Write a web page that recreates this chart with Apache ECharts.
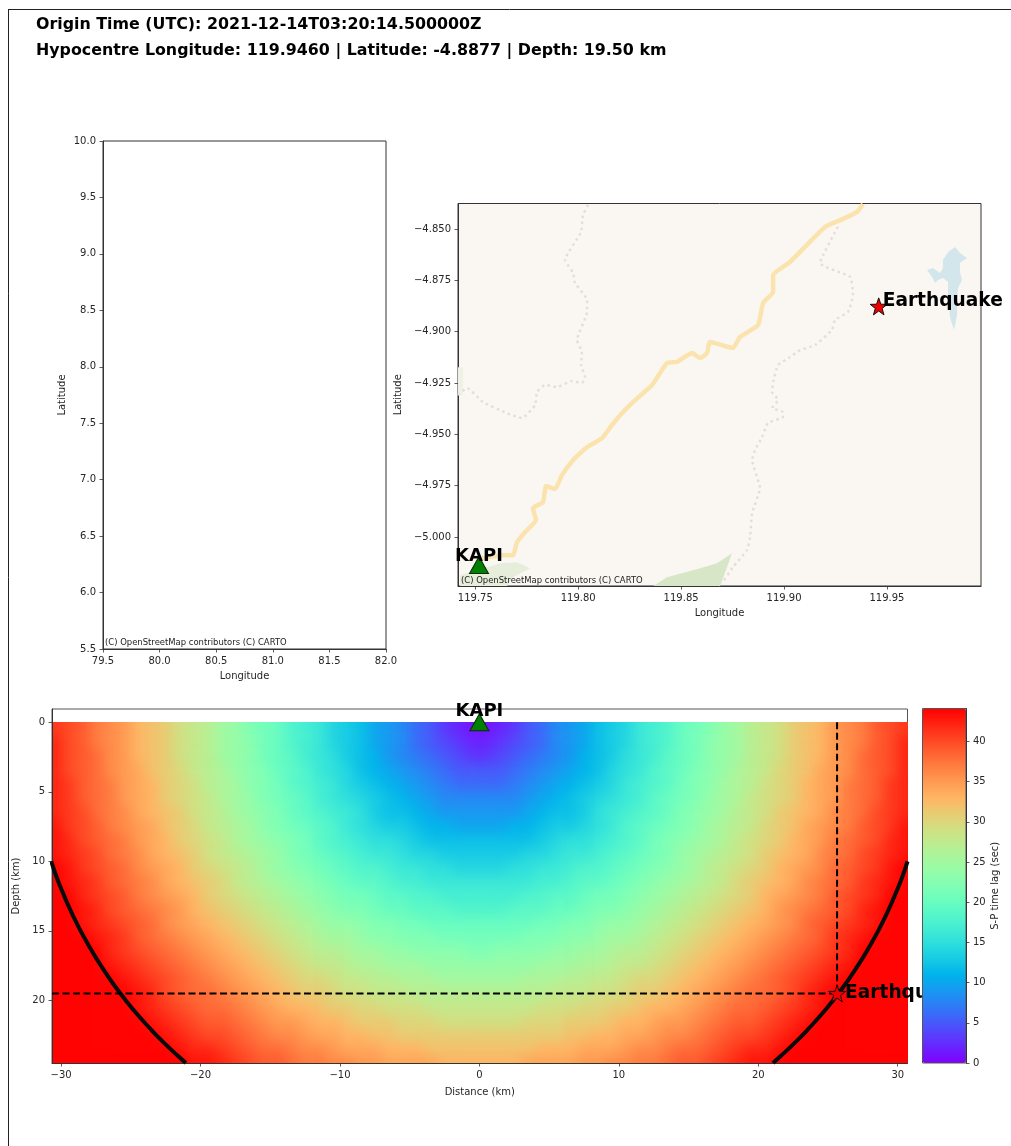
<!DOCTYPE html>
<html><head><meta charset="utf-8">
<style>html,body{margin:0;padding:0;background:#fff}#c{width:1011px;height:1146px}</style>
<script src="https://cdn.jsdelivr.net/npm/echarts@6/dist/echarts.min.js"></script>
</head><body><div id="c"></div>
<script>
const titleLines = ['Origin Time (UTC): 2021-12-14T03:20:14.500000Z','Hypocentre Longitude: 119.9460 | Latitude: -4.8877 | Depth: 19.50 km'];
const attribution = '(C) OpenStreetMap contributors (C) CARTO';

const mapLonTicks = [119.75,119.80,119.85,119.90,119.95];
const mapLatTicks = [-4.85,-4.875,-4.9,-4.925,-4.95,-4.975,-5.0];
const sectionDistanceTicks = [-30,-20,-10,0,10,20,30];
const sectionDepthTicks = [0,5,10,15,20];
const colorbarTicks = [0,5,10,15,20,25,30,35,40];

const quake = {lon:119.9460, lat:-4.8877, distance:25.65, depth:19.5};
const station = {lon:119.7518, lat:-5.0137, distance:0, depth:0};

const roadLon = [119.7533,119.7635,119.7683,119.7703,119.7741,119.7795,119.7780,119.7829,119.7844,119.7887,119.7921,119.7975,119.8043,119.8116,119.8164,119.8218,119.8266,119.8359,119.8431,119.8480,119.8553,119.8592,119.8626,119.8640,119.8752,119.8786,119.8874,119.8898,119.8947,119.8947,119.9029,119.9199,119.9287,119.9355,119.9384];
const roadLat = [-5.0103,-5.0089,-5.0089,-5.0025,-4.9977,-4.9918,-4.9860,-4.9830,-4.9752,-4.9767,-4.9699,-4.9626,-4.9562,-4.9519,-4.9455,-4.9392,-4.9343,-4.9260,-4.9153,-4.9148,-4.9104,-4.9129,-4.9104,-4.9051,-4.9080,-4.9026,-4.8968,-4.8861,-4.8807,-4.8724,-4.8661,-4.8490,-4.8451,-4.8417,-4.8378];
const trailWestLon = [119.8048,119.8023,119.8014,119.7936,119.7975,119.7984,119.8043,119.8043,119.7994,119.8018,119.8014,119.8033,119.8018,119.7970,119.7897,119.7839,119.7800,119.7790,119.7727,119.7654,119.7537,119.7460,119.7416];
const trailWestLat = [-4.8383,-4.8432,-4.8515,-4.8651,-4.8714,-4.8763,-4.8846,-4.8904,-4.9041,-4.9099,-4.9163,-4.9221,-4.9250,-4.9241,-4.9270,-4.9260,-4.9294,-4.9358,-4.9421,-4.9397,-4.9343,-4.9275,-4.9309];
const trailEastLon = [119.9262,119.9175,119.9321,119.9335,119.9311,119.9248,119.9233,119.9151,119.9078,119.9029,119.8971,119.8947,119.8942,119.8971,119.8942,119.8995,119.8995,119.8922,119.8893,119.8859,119.8845,119.8883,119.8845,119.8835,119.8820,119.8752,119.8699];
const trailEastLat = [-4.8490,-4.8666,-4.8734,-4.8822,-4.8904,-4.8943,-4.8992,-4.9065,-4.9090,-4.9124,-4.9163,-4.9246,-4.9294,-4.9333,-4.9372,-4.9392,-4.9416,-4.9445,-4.9514,-4.9577,-4.9626,-4.9762,-4.9884,-5.0001,-5.0064,-5.0147,-5.0225];
const forestSouthLon = [119.8363,119.8431,119.8592,119.8674,119.8747,119.8713,119.8689];
const forestSouthLat = [-5.0240,-5.0196,-5.0152,-5.0128,-5.0079,-5.0176,-5.0240];
const forestWestLon = [119.7426,119.7426,119.7513,119.7620,119.7703,119.7766,119.7683,119.7654];
const forestWestLat = [-5.0240,-5.0186,-5.0162,-5.0128,-5.0123,-5.0152,-5.0196,-5.0240];
const forestEdgeLon = [119.7416,119.7440,119.7440,119.7416];
const forestEdgeLat = [-4.9173,-4.9173,-4.9309,-4.9309];
const lakeLon = [119.9831,119.9855,119.9889,119.9855,119.9855,119.9865,119.9845,119.9841,119.9841,119.9826,119.9807,119.9797,119.9797,119.9772,119.9748,119.9734,119.9719,119.9695,119.9724,119.9758,119.9772,119.9772,119.9797];
const lakeLat = [-4.8588,-4.8617,-4.8641,-4.8666,-4.8710,-4.8749,-4.8788,-4.8870,-4.8919,-4.8992,-4.8934,-4.8836,-4.8758,-4.8739,-4.8749,-4.8763,-4.8734,-4.8700,-4.8690,-4.8714,-4.8690,-4.8651,-4.8612];

const arcDistance = [30.7,30.37,29.98,29.56,29.1,28.6,28.05,27.46,26.81,26.12,25.36,24.54,23.64,22.67,21.61,21.05];
const arcDepth = [10,11,12,13,14,15,16,17,18,19,20,21,22,23,24,24.5];

const distanceBins = [0.5,1.5,2.5,3.5,4.5,5.5,6.5,7.5,8.5,9.5,10.5,11.5,12.5,13.5,14.5,15.5,16.5,17.5,18.5,19.5,20.5,21.5,22.5,23.5,24.5,25.5,26.5,27.5,28.5,29.5,30.5];
const depthBins = [0.5,1.5,2.5,3.5,4.5,5.5,6.5,7.5,8.5,9.5,10.5,11.5,12.5,13.5,14.5,15.5,16.5,17.5,18.5,19.5,20.5,21.5,22.5,23.5,24.5];
const lagByDepth = [
[1,2,3,5,6,8,9,10,12,13,14,16,17,18,20,21,22,24,25,27,28,29,31,32,33,35,36,37,39,40,41],
[2,3,4,5,6,8,9,10,12,13,14,16,17,18,20,21,23,24,25,27,28,29,31,32,33,35,36,37,39,40,42],
[3,4,5,6,7,8,9,11,12,13,15,16,17,19,20,21,23,24,25,27,28,29,31,32,33,35,36,38,39,40,42],
[5,5,6,7,8,9,10,11,12,14,15,16,18,19,20,22,23,24,26,27,28,30,31,32,34,35,36,38,39,40,42],
[6,6,7,8,9,10,11,12,13,14,16,17,18,19,21,22,23,25,26,27,29,30,31,33,34,35,37,38,39,41,42],
[8,8,8,9,10,11,12,13,14,15,16,17,19,20,21,22,24,25,26,28,29,30,31,33,34,35,37,38,39,41,42],
[9,9,9,10,11,12,12,13,15,16,17,18,19,20,22,23,24,25,27,28,29,31,32,33,34,36,37,38,40,41,42],
[10,10,11,11,12,13,13,14,15,16,18,19,20,21,22,23,25,26,27,28,30,31,32,34,35,36,37,39,40,41,43],
[12,12,12,12,13,14,15,15,16,17,18,19,21,22,23,24,25,26,28,29,30,31,33,34,35,37,38,39,40,42,43],
[13,13,13,14,14,15,16,16,17,18,19,20,21,22,24,25,26,27,28,29,31,32,33,34,36,37,38,40,41,42,43],
[14,14,15,15,16,16,17,18,18,19,20,21,22,23,24,25,27,28,29,30,31,33,34,35,36,38,39,40,41,43,44],
[16,16,16,16,17,17,18,19,19,20,21,22,23,24,25,26,27,28,30,31,32,33,34,36,37,38,39,41,42,43,44],
[17,17,17,18,18,19,19,20,21,21,22,23,24,25,26,27,28,29,30,31,33,34,35,36,37,39,40,41,42,44,44],
[18,18,19,19,19,20,20,21,22,22,23,24,25,26,27,28,29,30,31,32,33,35,36,37,38,39,40,42,43,44,44],
[20,20,20,20,21,21,22,22,23,24,24,25,26,27,28,29,30,31,32,33,34,35,36,38,39,40,41,42,43,44,44],
[21,21,21,22,22,22,23,23,24,25,25,26,27,28,29,30,31,32,33,34,35,36,37,38,39,41,42,43,44,44,44],
[22,23,23,23,23,24,24,25,25,26,27,27,28,29,30,31,32,33,34,35,36,37,38,39,40,41,42,44,44,44,44],
[24,24,24,24,25,25,25,26,26,27,28,28,29,30,31,32,33,34,35,36,37,38,39,40,41,42,43,44,44,44,44],
[25,25,25,26,26,26,27,27,28,28,29,30,30,31,32,33,34,35,36,37,38,39,40,41,42,43,44,44,44,44,44],
[27,27,27,27,27,28,28,28,29,29,30,31,31,32,33,34,35,36,37,38,38,39,40,42,43,44,44,44,44,44,44],
[28,28,28,28,29,29,29,30,30,31,31,32,33,33,34,35,36,37,38,38,39,40,41,42,43,44,44,44,44,44,44],
[29,29,29,30,30,30,31,31,31,32,33,33,34,35,35,36,37,38,39,39,40,41,42,43,44,44,44,44,44,44,44],
[31,31,31,31,31,31,32,32,33,33,34,34,35,36,36,37,38,39,40,40,41,42,43,44,44,44,44,44,44,44,44],
[32,32,32,32,33,33,33,34,34,34,35,36,36,37,38,38,39,40,41,42,42,43,44,44,44,44,44,44,44,44,44],
[33,33,33,34,34,34,34,35,35,36,36,37,37,38,39,39,40,41,42,43,43,44,44,44,44,44,44,44,44,44,44]
];

const cellData = [];
depthBins.forEach((d, r) => distanceBins.forEach((x, c) => {
  cellData.push([x, d, lagByDepth[r][c]]);
  cellData.push([-x, d, lagByDepth[r][c]]);
}));
const zip = (a, b) => a.map((v, i) => [v, b[i]]);
const lastBinX = distanceBins[distanceBins.length - 1], firstBinD = depthBins[0], lastBinD = depthBins[depthBins.length - 1];

const FONT = 'DejaVu Sans', INK = '#262626', EDGE = '#333333';
const fmtTick = (n) => (v) => (v < 0 ? '\u2212' : '') + Math.abs(v).toFixed(n);
const fmtInt = (v) => (v < 0 ? '\u2212' : '') + Math.abs(v);
const tickText = {color:INK,fontFamily:FONT,fontSize:10};

function axis(gridIndex, extra) {
  return Object.assign({
    gridIndex, type:'value', scale:true, splitLine:{show:false},
    axisLine:{show:true,onZero:false,lineStyle:{color:EDGE,width:1}},
    axisTick:{show:true,length:3.5,lineStyle:{color:EDGE,width:.8}},
    nameLocation:'middle', nameTextStyle:{color:INK,fontFamily:FONT,fontSize:10}
  }, extra);
}
function custom(extra) {
  const {tickValues, label, margin, ...rest} = extra;
  const a = axis(rest.gridIndex, rest);
  a.axisTick = Object.assign({}, a.axisTick, {customValues:tickValues});
  a.axisLabel = Object.assign({}, tickText, {margin, customValues:tickValues, formatter:label, showMinLabel:true, showMaxLabel:true});
  return a;
}
function polygon(lon, lat, fill, name) {
  return {
    type:'custom', name, xAxisIndex:1, yAxisIndex:1, silent:true, clip:true, z:2,
    data:[0],
    renderItem:(p, api) => ({type:'polygon', shape:{points:zip(lon,lat).map(q => api.coord(q))}, style:{fill}})
  };
}
function pathLine(lon, lat, style, z) {
  return {type:'line', xAxisIndex:1, yAxisIndex:1, data:zip(lon,lat), showSymbol:false, silent:true, clip:true, z, lineStyle:style, smooth:.15};
}

const kapiLabel = {show:true, fontFamily:FONT, fontWeight:'bold', fontSize:18, color:'#000', opacity:1, formatter:'KAPI'};
const quakeLabel = {show:true, fontFamily:FONT, fontWeight:'bold', fontSize:18.6, color:'#000', opacity:1, formatter:'Earthquake'};
const triangle = {symbol:'triangle', symbolSize:[19,17], itemStyle:{color:'#008000',borderColor:'#0a2a0a',borderWidth:1,opacity:1}};
const star = {symbol:'path://M0,-10 L2.35,-3.24 L9.51,-3.09 L3.8,1.24 L5.88,8.09 L0,4 L-5.88,8.09 L-3.8,1.24 L-9.51,-3.09 L-2.35,-3.24 Z', symbolSize:17, itemStyle:{color:'#ee0000',borderColor:'#111',borderWidth:1,opacity:1}};

const option = {
  animation:false, backgroundColor:'transparent',
  grid:[
    {left:103,top:141,width:283,height:508,show:true,borderColor:EDGE,borderWidth:1,backgroundColor:'transparent'},
    {left:458,top:203.5,width:523,height:382.5,show:true,borderColor:EDGE,borderWidth:1,backgroundColor:'#faf7f3'},
    {left:52,top:709,width:855.5,height:354,show:true,borderColor:'#555',borderWidth:1,backgroundColor:'#fff'},
    {left:922.5,top:708.5,width:43.5,height:354.5,show:true,borderColor:'#555',borderWidth:1,backgroundColor:'transparent',zlevel:3,z:10}
  ],
  xAxis:[
    axis(0,{min:79.5,max:82,interval:.5,name:'Longitude',nameGap:22,axisLabel:Object.assign({},tickText,{margin:7,formatter:fmtTick(1),showMinLabel:true,showMaxLabel:true})}),
    custom({gridIndex:1,min:119.7416,max:119.9957,tickValues:mapLonTicks,label:fmtTick(2),margin:7,name:'Longitude',nameGap:22}),
    custom({gridIndex:2,min:-30.65,max:30.7,tickValues:sectionDistanceTicks,label:fmtInt,margin:7,name:'Distance (km)',nameGap:24,zlevel:2}),
    {gridIndex:3,type:'value',min:0,max:1,show:false,zlevel:3}
  ],
  yAxis:[
    axis(0,{min:5.5,max:10,interval:.5,name:'Latitude',nameGap:35.5,axisLabel:Object.assign({},tickText,{margin:7,formatter:fmtTick(1),showMinLabel:true,showMaxLabel:true})}),
    custom({gridIndex:1,min:-5.0239,max:-4.8376,tickValues:mapLatTicks,label:fmtTick(3),margin:7,name:'Latitude',nameGap:51}),
    custom({gridIndex:2,min:-0.95,max:24.5,inverse:true,tickValues:sectionDepthTicks,label:fmtInt,margin:7,name:'Depth (km)',nameGap:27.5,zlevel:2}),
    custom({gridIndex:3,min:0,max:44.1,position:'right',tickValues:colorbarTicks,label:fmtInt,margin:7,name:'S-P time lag (sec)',nameGap:24,nameRotate:90,zlevel:3,z:10})
  ],
  visualMap:{
    type:'continuous', show:true, seriesIndex:0, dimension:2, min:0, max:44.1,
    left:922.5, top:708.5, itemWidth:43.5, itemHeight:354.5, padding:0, calculable:false, realtime:false,
    text:null, showLabel:false, hoverLink:false, zlevel:3,
    inRange:{color:['#8000ff','#6628fe','#4d4ffc','#3374f8','#1a96f2','#00b4eb','#1acee3','#33e3da','#4df2ce','#66fcc2','#80ffb4','#99fca5','#b3f296','#cce385','#e6ce74','#ffb462','#ff964f','#ff743b','#ff4f28','#ff2814','#ff0000']},
    textStyle:{color:'rgba(0,0,0,0)',fontSize:1}
  },
  series:[
    {type:'custom', xAxisIndex:2, yAxisIndex:2, data:cellData, silent:true, clip:false, zlevel:1, z:1,
      encode:{x:0,y:1},
      renderItem:(p, api) => {
        const x = api.value(0), d = api.value(1);
        const a = api.coord([x-.5,d-.5]), b = api.coord([x+.5,d+.5]);
        const pad = 26;
        if (x === -lastBinX) a[0] -= pad;
        if (x === lastBinX) b[0] += pad;
        if (d === firstBinD) a[1] -= pad;
        if (d === lastBinD) b[1] += pad;
        const c = api.visual('color');
        return {type:'rect', shape:{x:a[0],y:a[1],width:b[0]-a[0],height:b[1]-a[1]}, style:{fill:c,stroke:c,lineWidth:.6}};
      }},
    {type:'line', xAxisIndex:2, yAxisIndex:2, data:zip(arcDistance,arcDepth), smooth:true, showSymbol:false, silent:true, clip:true, zlevel:2, z:3, lineStyle:{color:'#0a0a0a',width:4}},
    {type:'line', xAxisIndex:2, yAxisIndex:2, data:arcDistance.map((v,i)=>[-v,arcDepth[i]]), smooth:true, showSymbol:false, silent:true, clip:true, zlevel:2, z:3, lineStyle:{color:'#0a0a0a',width:4}},
    {type:'line', xAxisIndex:2, yAxisIndex:2, data:[[-30.65,quake.depth],[quake.distance,quake.depth]], showSymbol:false, silent:true, zlevel:2, z:4, lineStyle:{color:'#000',width:2,type:[7,3.5]}},
    {type:'line', xAxisIndex:2, yAxisIndex:2, data:[[quake.distance,0],[quake.distance,quake.depth]], showSymbol:false, silent:true, zlevel:2, z:4, lineStyle:{color:'#000',width:2,type:[7,3.5]}},
    Object.assign({type:'scatter', xAxisIndex:2, yAxisIndex:2, clip:false, silent:true, zlevel:2, z:5, data:[[station.distance,station.depth]],
      label:Object.assign({position:'top',distance:-7},kapiLabel)}, triangle),
    Object.assign({type:'scatter', xAxisIndex:2, yAxisIndex:2, clip:false, silent:true, zlevel:2, z:5, data:[[quake.distance,quake.depth]],
      label:Object.assign({position:'right',distance:-1},quakeLabel)}, star),

    polygon(forestSouthLon, forestSouthLat, '#d8e6c8', 'forest south'),
    polygon(forestWestLon, forestWestLat, '#e6eedb', 'forest west'),
    polygon(forestEdgeLon, forestEdgeLat, '#eef2e4', 'forest edge'),
    polygon(lakeLon, lakeLat, '#d3e6ec', 'lake'),
    pathLine(trailWestLon, trailWestLat, {color:'#e8dcd8',width:2.5,type:[2.5,3.5]}, 3),
    pathLine(trailEastLon, trailEastLat, {color:'#e8dcd8',width:2.5,type:[2.5,3.5]}, 3),
    pathLine(roadLon, roadLat, {color:'#fbe3ad',width:4.5}, 4),
    Object.assign({type:'scatter', xAxisIndex:1, yAxisIndex:1, clip:false, silent:true, z:6, data:[[station.lon,station.lat]],
      label:Object.assign({position:'top',distance:-9},kapiLabel)}, triangle),
    Object.assign({type:'scatter', xAxisIndex:1, yAxisIndex:1, clip:false, silent:true, z:6, data:[[quake.lon,quake.lat]],
      label:Object.assign({position:'right',distance:-5,offset:[0,-5]},quakeLabel)}, star)
  ],
  graphic:[
    {type:'line',shape:{x1:8.5,y1:9,x2:8.5,y2:1146},style:{stroke:'#222',lineWidth:1},silent:true},
    {type:'line',shape:{x1:8,y1:9.5,x2:1011,y2:9.5},style:{stroke:'#222',lineWidth:1},silent:true},
    {type:'text',x:36,y:25,style:{text:titleLines[0],fill:'#000',font:'bold 15.85px "DejaVu Sans"',verticalAlign:'middle'},silent:true},
    {type:'text',x:36,y:51,style:{text:titleLines[1],fill:'#000',font:'bold 15.85px "DejaVu Sans"',verticalAlign:'middle'},silent:true},
    {type:'text',x:461,y:581,z:20,style:{text:attribution,fill:'#222',font:'8.45px "DejaVu Sans"',verticalAlign:'middle'},silent:true},
    {type:'text',x:105,y:643,z:20,style:{text:attribution,fill:'#222',font:'8.45px "DejaVu Sans"',verticalAlign:'middle'},silent:true}
  ]
};
const chart = echarts.init(document.getElementById('c'),null,{renderer:'canvas'});
chart.setOption(option);
function softenSectionLayer() {
  const layer = document.querySelector('[data-zr-dom-id="zr_1"]');
  if (layer) {
    layer.style.filter = 'blur(6px)';
    layer.style.clipPath = 'inset(722.3px 103.5px 83px 52.5px)';
  }
}
softenSectionLayer();
chart.on('finished', softenSectionLayer);
</script></body></html>
